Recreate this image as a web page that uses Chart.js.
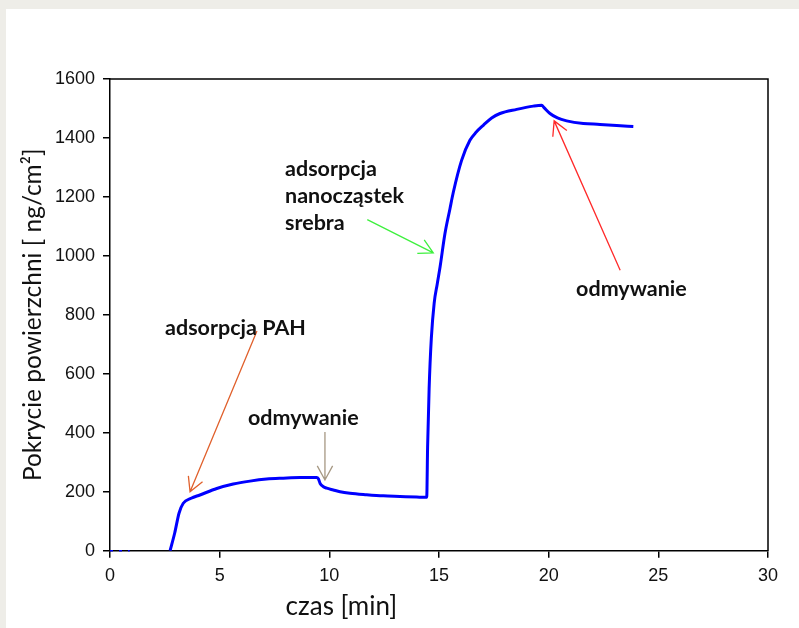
<!DOCTYPE html>
<html lang="pl"><head>
<meta charset="utf-8"/>
<title>Pokrycie powierzchni</title>
<script src="https://cdn.jsdelivr.net/npm/chart.js"></script>
<style>
    html, body { margin: 0; padding: 0; }
    body {
        width: 799px; height: 628px; overflow: hidden;
        background: #eeede8;
        position: relative;
    }
    #panel {
        position: absolute; left: 6px; top: 9px;
        width: 793px; height: 619px;
        background: #fff;
    }
</style>
</head>
<body>
<div id="panel"><canvas id="chart" width="793" height="619"></canvas></div>
<script>
    // czas [min] i pokrycie [ng/cm2]
    const czasMin = [0, 0.45, 0.9, 1.8, 2.74, 2.95, 3.15, 3.34, 3.7, 4.1, 4.87, 5.62, 6.38, 7.14, 7.9, 8.66, 9.42,
        9.5, 9.58, 9.73, 9.88, 10.18, 10.49, 10.94, 11.7, 12.46, 13.22, 13.98, 14.44,
        14.48, 14.55, 14.65, 14.78, 14.92, 15.05, 15.27, 15.5, 15.65, 16.03, 16.41, 16.7, 17.02, 17.4, 17.78,
        18.54, 19.3, 19.68, 19.8, 20.06, 20.4, 20.82, 21.58, 22.34, 23.1, 23.86];
    const pokrycie = [0, 0, 0, null, 0, 60, 128, 161, 178, 189, 211, 226, 236, 243, 246, 248, 248,
        244, 228, 217, 212, 206, 200, 195, 190, 186, 184, 182, 181,
        350, 550, 720, 840, 905, 963, 1075, 1160, 1215, 1324, 1392, 1420, 1443, 1468, 1483,
        1497, 1508, 1511, 1502, 1483, 1468, 1458, 1449, 1446, 1442, 1439];

    const xTicks = [0, 5, 10, 15, 20, 25, 30];
    const yTicks = [0, 200, 400, 600, 800, 1000, 1200, 1400, 1600];

    // opisy: tekst, czas, pokrycie (w jednostkach osi)
    const opisy = [
        { lines: ['adsorpcja PAH'], x: 2.51, y: 755 },
        { lines: ['odmywanie'], x: 6.29, y: 450 },
        { lines: ['adsorpcja', 'nanocząstek', 'srebra'], x: 7.98, y: 1293 },
        { lines: ['odmywanie'], x: 21.25, y: 886 }
    ];
    // strzałki: od -> do (w jednostkach osi)
    const strzalki = [
        { from: [6.70, 745], to: [3.65, 200], color: '#e0602c' },
        { from: [9.80, 403], to: [9.80, 240], color: '#a69883' },
        { from: [11.73, 1123], to: [14.74, 1010], color: '#3ef03e' },
        { from: [23.26, 951], to: [20.25, 1458], color: '#ff2a2a' }
    ];

    const frameAndNotes = {
        id: 'frameAndNotes',
        afterDraw(chart) {
            const ctx = chart.ctx;
            const a = chart.chartArea;
            const sx = chart.scales.x, sy = chart.scales.y;
            ctx.save();
            // ramka: góra i prawo
            ctx.strokeStyle = '#000';
            ctx.lineWidth = 1.5;
            ctx.beginPath();
            ctx.moveTo(a.left, a.top);
            ctx.lineTo(a.right, a.top);
            ctx.lineTo(a.right, a.bottom);
            ctx.stroke();

            // strzałki
            strzalki.forEach(s => {
                const x1 = sx.getPixelForValue(s.from[0]), y1 = sy.getPixelForValue(s.from[1]);
                const x2 = sx.getPixelForValue(s.to[0]), y2 = sy.getPixelForValue(s.to[1]);
                const ang = Math.atan2(y2 - y1, x2 - x1);
                const len = 16, spread = 0.5;
                ctx.strokeStyle = s.color;
                ctx.lineWidth = 1.3;
                ctx.beginPath();
                ctx.moveTo(x1, y1);
                ctx.lineTo(x2, y2);
                ctx.moveTo(x2 - len * Math.cos(ang - spread), y2 - len * Math.sin(ang - spread));
                ctx.lineTo(x2, y2);
                ctx.lineTo(x2 - len * Math.cos(ang + spread), y2 - len * Math.sin(ang + spread));
                ctx.stroke();
            });

            // opisy
            ctx.fillStyle = '#111';
            ctx.font = 'bold 21.5px Lato';
            ctx.textAlign = 'left';
            ctx.textBaseline = 'middle';
            opisy.forEach(o => {
                const x = sx.getPixelForValue(o.x), y = sy.getPixelForValue(o.y);
                o.lines.forEach((t, i) => ctx.fillText(t, x, y + i * 27));
            });

            // tytuł osi x
            ctx.font = '26px Lato';
            ctx.textAlign = 'center';
            ctx.fillText('czas [min]', sx.getPixelForValue(10.55), a.bottom + 56);
            ctx.restore();
        }
    };

    const tickFont = { family: "'Liberation Sans', Arial, sans-serif", size: 18 };

    new Chart(document.getElementById('chart'), {
        type: 'line',
        data: {
            datasets: [{
                data: czasMin.map((t, i) => ({ x: t, y: pokrycie[i] })),
                borderColor: '#0000ff',
                borderWidth: 3,
                pointRadius: 0,
                cubicInterpolationMode: 'monotone',
                spanGaps: false,
                clip: false,
                fill: false,
                segment: {
                    borderDash: c => c.p1DataIndex <= 2 ? [3, 6] : undefined,
                    borderWidth: c => c.p1DataIndex <= 2 ? 1.5 : undefined
                }
            }]
        },
        options: {
            responsive: false,
            animation: false,
            layout: { padding: { left: 0, top: 70, right: 31, bottom: 0 } },
            plugins: { legend: { display: false }, tooltip: { enabled: false } },
            scales: {
                x: {
                    type: 'linear', min: 0, max: 30,
                    afterFit: s => { s.height = 77.3; },
                    afterBuildTicks: s => { s.ticks = xTicks.map(v => ({ value: v })); },
                    border: { color: '#000', width: 1.5 },
                    grid: { drawOnChartArea: false, drawTicks: true, tickLength: 7, color: '#000', lineWidth: 1.5 },
                    ticks: { color: '#111', padding: 8, font: tickFont, maxRotation: 0, callback: v => String(v) }
                },
                y: {
                    min: 0, max: 1600,
                    afterFit: s => { s.width = 104; },
                    afterBuildTicks: s => { s.ticks = yTicks.map(v => ({ value: v })); },
                    border: { color: '#000', width: 1.5 },
                    grid: { drawOnChartArea: false, drawTicks: true, tickLength: 7, color: '#000', lineWidth: 1.5 },
                    ticks: { color: '#111', padding: 8, font: tickFont, callback: v => String(v) },
                    title: {
                        display: true,
                        text: 'Pokrycie powierzchni [ ng/cm²]',
                        color: '#111',
                        font: { family: 'Lato', size: 24.5 },
                        padding: { top: 12, bottom: 0 }
                    }
                }
            }
        },
        plugins: [frameAndNotes]
    });
</script>
</body></html>
